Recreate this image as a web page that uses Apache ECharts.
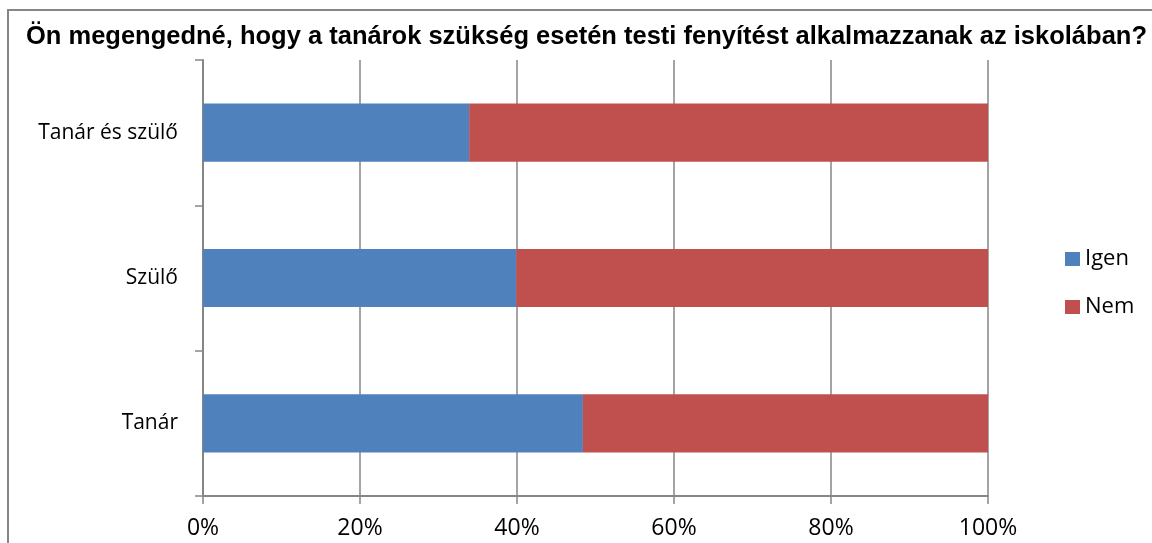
<!DOCTYPE html>
<html>
<head>
<meta charset="utf-8">
<script src="https://cdn.jsdelivr.net/npm/echarts@6/dist/echarts.min.js"></script>
<style>
  html, body { margin: 0; padding: 0; background: #fff; overflow: hidden; }
  #chart { width: 1152px; height: 543px; }
</style>
</head>
<body>
<div id="chart"></div>
<script>
'use strict';
var categories = ['Tanár', 'Szülő', 'Tanár és szülő'];
var igenValues = [48.4, 39.9, 33.9];
var nemValues = [51.6, 60.1, 66.1];
var xTicks = [0, 20, 40, 60, 80, 100];

var gray = '#868686';
var labelFont = '"Open Sans", "Noto Sans", sans-serif';

var myChart = echarts.init(document.getElementById('chart'));

var option = {
    animation: false,
    backgroundColor: '#fff',
    title: {
        text: 'Ön megengedné, hogy a tanárok szükség esetén testi fenyítést alkalmazzanak az iskolában?',
        left: 21,
        top: 19,
        textStyle: {
            fontFamily: '"Liberation Sans", Arial, sans-serif',
            fontWeight: 'bold',
            fontSize: 25.5,
            color: '#000'
        }
    },
    graphic: [{
        type: 'rect',
        shape: { x: 8, y: 10, width: 1300, height: 700 },
        style: { fill: 'none', stroke: gray, lineWidth: 2 },
        silent: true
    }],
    legend: {
        orient: 'vertical',
        left: 1060,
        top: 243,
        itemWidth: 15,
        itemHeight: 14,
        itemGap: 26,
        icon: 'rect',
        data: ['Igen', 'Nem'],
        textStyle: { fontFamily: labelFont, fontSize: 22, color: '#000' }
    },
    grid: {
        left: 203,
        right: 164,
        top: 60,
        bottom: 47,
        containLabel: false
    },
    xAxis: {
        type: 'value',
        min: 0,
        max: 100,
        interval: 20,
        axisLine: { show: true, lineStyle: { color: gray, width: 2 } },
        axisTick: { show: true, length: 8, lineStyle: { color: gray, width: 1.5 } },
        splitLine: { show: true, lineStyle: { color: gray, width: 1.5 } },
        axisLabel: {
            margin: 21,
            fontFamily: labelFont,
            fontSize: 23,
            color: '#000',
            formatter: function(v) { return xTicks.indexOf(v) >= 0 ? v + '%' : ''; }
        }
    },
    yAxis: {
        type: 'category',
        data: categories,
        axisLine: { show: true, lineStyle: { color: gray, width: 2 } },
        axisTick: { show: true, length: 8, lineStyle: { color: gray, width: 1.5 } },
        axisLabel: {
            margin: 25,
            fontFamily: labelFont,
            fontSize: 21,
            color: '#000'
        }
    },
    series: [{
        name: 'Igen',
        type: 'bar',
        stack: 'total',
        barWidth: '40%',
        itemStyle: { color: '#4F81BD' },
        data: igenValues
    }, {
        name: 'Nem',
        type: 'bar',
        stack: 'total',
        barWidth: '40%',
        itemStyle: { color: '#C0504D' },
        data: nemValues
    }]
};

myChart.setOption(option);
</script>
</body>
</html>
